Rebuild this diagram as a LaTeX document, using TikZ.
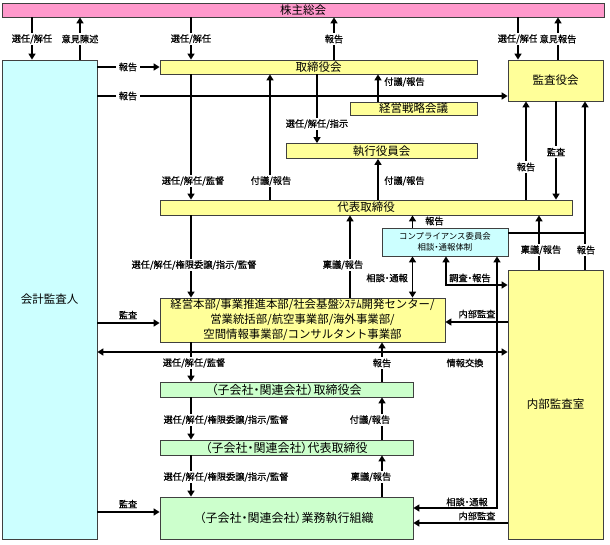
\documentclass[tikz,border=0pt]{standalone}
\usepackage{fontspec}
\setmainfont{Noto Sans CJK JP}
\newfontfamily\labfnt{Noto Sans CJK JP}[FakeBold=0.6,RawFeature=+palt]
\newfontfamily\pfnt{Noto Sans CJK JP}[RawFeature=+palt]
\usetikzlibrary{arrows.meta}
\definecolor{pinkc}{HTML}{FF99CC}
\definecolor{cyanc}{HTML}{CCFFFF}
\definecolor{yelc}{HTML}{FFFF99}
\definecolor{grnc}{HTML}{CCFFCC}
\definecolor{edgec}{HTML}{404040}
\newcommand{\fttl}{\fontsize{11.5}{14}\selectfont}
\newcommand{\fgrn}{\pfnt\fontsize{12}{14}\selectfont}
\newcommand{\flab}{\labfnt\fontsize{9.2}{11}\selectfont}
\newcommand{\fcomp}{\fontsize{8.4}{10.5}\selectfont}
\newcommand{\fkei}{\fontsize{11.4}{15}\selectfont}
\begin{document}
\begin{tikzpicture}[x=1pt,y=-1pt,
  box/.style={draw=edgec, line width=0.8pt, inner sep=0pt, align=center, font=\fttl},
  conn/.style={line width=1.8pt, -{Triangle[length=6pt,width=7pt]}},
  conntwo/.style={line width=1.8pt, {Triangle[length=6pt,width=7pt]}-{Triangle[length=6pt,width=7pt]}},
  plainline/.style={line width=1.8pt},
  lab/.style={font=\flab, fill=white, inner xsep=3pt, inner ysep=1.5pt},
  side/.style={font=\flab, inner sep=1pt}]
\useasboundingbox (0,0) rectangle (610,545);

% boxes
\node[box, fill=pinkc, minimum width=602pt, minimum height=14pt] (soukai) at (303,10) {株主総会};
\node[box, fill=cyanc, minimum width=95pt, minimum height=479pt] (kaikei) at (49.5,299.5) {会計監査人};
\node[box, fill=yelc, minimum width=317pt, minimum height=14pt] (tori) at (318.5,67) {取締役会};
\node[box, fill=yelc, minimum width=127pt, minimum height=13pt] (senryaku) at (413.5,108.5) {経営戦略会議};
\node[box, fill=yelc, minimum width=191pt, minimum height=15pt] (shikko) at (381.5,151) {執行役員会};
\node[box, fill=yelc, minimum width=412pt, minimum height=15pt] (daihyo) at (366,207.5) {代表取締役};
\node[box, fill=cyanc, minimum width=126pt, minimum height=28pt, font=\fcomp] (comp) at (445,242) {コンプライアンス委員会\\相談{\pfnt ・}通報体制};
\node[box, fill=yelc, minimum width=95pt, minimum height=41pt] (kansa) at (555.5,80.5) {監査役会};
\node[box, fill=yelc, minimum width=95pt, minimum height=269pt] (naibu) at (555.5,404.5) {内部監査室};
\node[box, fill=yelc, minimum width=285pt, minimum height=44pt, font=\fkei] (keiei) at (302.5,320) {経営本部/事業推進本部/社会基盤ｼｽﾃﾑ開発センター/\\営業統括部/航空事業部/海外事業部/\\空間情報事業部/コンサルタント事業部};
\node[box, fill=grnc, minimum width=253pt, minimum height=15pt, font=\fgrn] (ktori) at (286.5,389.5) {（子会社・関連会社）取締役会};
\node[box, fill=grnc, minimum width=253pt, minimum height=15pt, font=\fgrn] (kdaihyo) at (286.5,447.5) {（子会社・関連会社）代表取締役};
\node[box, fill=grnc, minimum width=253pt, minimum height=42pt, font=\fgrn] (gyomu) at (286.5,518) {（子会社・関連会社）業務執行組織};

% columns and rows
\coordinate (xa) at (32,0);
\coordinate (xb) at (80,0);
\coordinate (xc) at (191,0);
\coordinate (xd) at (270,0);
\coordinate (xe) at (317,0);
\coordinate (xf) at (334,0);
\coordinate (xg) at (350,0);
\coordinate (xh) at (378,0);
\coordinate (xi) at (382,0);
\coordinate (xj) at (412.5,0);
\coordinate (xk) at (446,0);
\coordinate (xl) at (497,0);
\coordinate (xm) at (518,0);
\coordinate (xn) at (526,0);
\coordinate (xo) at (539,0);
\coordinate (xp) at (556,0);
\coordinate (xq) at (558,0);
\coordinate (xr) at (585,0);
\coordinate (r96) at (0,96);
\coordinate (r233) at (0,233);
\coordinate (r285) at (0,285);
\coordinate (r322) at (0,322);
\coordinate (r323) at (0,323);
\coordinate (r352) at (0,352);
\coordinate (r508) at (0,508);
\coordinate (r512) at (0,512);
\coordinate (r523) at (0,523);

% connectors
\draw[conn] (soukai.south -| xa) -- (kaikei.north -| xa);
\draw[conn] (kaikei.north -| xb) -- (soukai.south -| xb);
\draw[conn] (soukai.south -| xc) -- (tori.north -| xc);
\draw[conn] (tori.north -| xf) -- (soukai.south -| xf);
\draw[conn] (soukai.south -| xm) -- (kansa.north -| xm);
\draw[conn] (kansa.north -| xq) -- (soukai.south -| xq);
\draw[conn] (kaikei.east |- tori.west) -- (tori.west);
\draw[conn] (kaikei.east |- r96) -- (kansa.west |- r96);
\draw[conn] (tori.south -| xc) -- (daihyo.north -| xc);
\draw[conn] (daihyo.north -| xd) -- (tori.south -| xd);
\draw[conn] (tori.south -| xe) -- (shikko.north -| xe);
\draw[conn] (senryaku.north -| xh) -- (tori.south -| xh);
\draw[conn] (daihyo.north -| xh) -- (shikko.south -| xh);
\draw[conn] (daihyo.north -| xn) -- (kansa.south -| xn);
\draw[conn] (kansa.south -| xp) -- (daihyo.north -| xp);
\draw[conn] (naibu.north -| xr) -- (kansa.south -| xr);
\draw[plainline] (comp.east |- r233) -- (xr |- r233);
\draw[conn] (naibu.north -| xo) -- (daihyo.south -| xo);
\draw[conn] (comp.north -| xj) -- (daihyo.south -| xj);
\draw[conn] (keiei.north -| xg) -- (daihyo.south -| xg);
\draw[conn] (daihyo.south -| xc) -- (keiei.north -| xc);
\draw[conntwo] (keiei.north -| xj) -- (comp.south -| xj);
\draw[conntwo] (comp.south -| xk) |- (naibu.west |- r285);
\draw[conntwo] (comp.south -| xl) |- (gyomu.east |- r508);
\draw[conn] (naibu.west |- r322) -- (keiei.east |- r322);
\draw[conn] (naibu.west |- r523) -- (gyomu.east |- r523);
\draw[conntwo] (kaikei.east |- r352) -- (naibu.west |- r352);
\draw[conn] (kaikei.east |- r323) -- (keiei.west |- r323);
\draw[conn] (kaikei.east |- r512) -- (gyomu.west |- r512);
\draw[conn] (keiei.south -| xc) -- (ktori.north -| xc);
\draw[conn] (ktori.north -| xi) -- (keiei.south -| xi);
\draw[conn] (ktori.south -| xc) -- (kdaihyo.north -| xc);
\draw[conn] (kdaihyo.north -| xi) -- (ktori.south -| xi);
\draw[conn] (kdaihyo.south -| xc) -- (gyomu.north -| xc);
\draw[conn] (gyomu.north -| xi) -- (kdaihyo.south -| xi);

% labels
\node[lab] (l1) at (32,39) {選任/解任};
\node[lab] (l2) at (80,39) {意見陳述};
\node[lab] (l3) at (191,39) {選任/解任};
\node[lab] (l4) at (334,39) {報告};
\node[lab] (l5) at (518,39) {選任/解任};
\node[lab] (l6) at (558,39) {意見報告};
\node[lab] (l7) at (128,67) {報告};
\node[lab] (l8) at (128,96) {報告};
\node[lab] (l9) at (317,124) {選任/解任/指示};
\node[side, anchor=west] (l10) at (383,82) {付議/報告};
\node[lab] (l11) at (193,181) {選任/解任/監督};
\node[lab] (l12) at (271,181) {付議/報告};
\node[side, anchor=west] (l13) at (383,181) {付議/報告};
\node[lab] (l14) at (526,167) {報告};
\node[lab] (l15) at (556,152) {監査};
\node[side, anchor=west] (l16) at (424,221) {報告};
\node[lab] (l17) at (541,250) {稟議/報告};
\node[lab] (l18) at (586,250) {報告};
\node[lab] (l19) at (343,265) {稟議/報告};
\node[lab] (l20) at (194,265) {選任/解任/権限委譲/指示/監督};
\node[side, anchor=east] (l21) at (409,278) {相談・通報};
\node[side, anchor=west] (l22) at (448,278) {調査・報告};
\node[side] (l23) at (128,315) {監査};
\node[side] (l24) at (477,314) {内部監査};
\node[side] (l25) at (465,363) {情報交換};
\node[lab] (l26) at (194,363) {選任/解任/監督};
\node[lab] (l27) at (382,363) {報告};
\node[lab] (l28) at (226,420) {選任/解任/権限委譲/指示/監督};
\node[lab] (l29) at (370,420) {付議/報告};
\node[lab] (l30) at (226,477) {選任/解任/権限委譲/指示/監督};
\node[lab] (l31) at (371,477) {稟議/報告};
\node[side] (l32) at (128,504) {監査};
\node[side] (l33) at (467,502) {相談・通報};
\node[side] (l34) at (477,516) {内部監査};
\end{tikzpicture}
\end{document}
